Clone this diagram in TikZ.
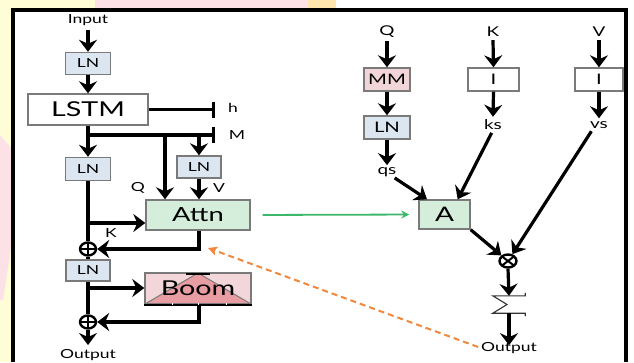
\documentclass[tikz,border=0pt]{standalone}
\usepackage{fontspec}
\setmainfont[FakeStretch=1.4]{Lato}
\usetikzlibrary{arrows.meta,shapes.geometric}
\definecolor{boxgray}{HTML}{7A7A7A}
\definecolor{lnblue}{HTML}{DCE6F1}
\definecolor{mmpink}{HTML}{F2D5D8}
\definecolor{attgreen}{HTML}{D5EEDC}
\definecolor{boomlight}{HTML}{F2D6D9}
\definecolor{boomdark}{HTML}{E89DA3}
\definecolor{bgyellow}{HTML}{FFFDD6}
\definecolor{bgpink}{HTML}{FCE1E6}
\definecolor{bgorange}{HTML}{FFE6AE}
\definecolor{arrgreen}{HTML}{3DB86B}
\definecolor{arrorange}{HTML}{F0883E}
\tikzset{
  box/.style={draw=boxgray,line width=1.4pt,inner sep=0pt},
  lnbox/.style={box,fill=lnblue,minimum width=45pt,minimum height=22pt,font=\fontsize{12.5}{13}\selectfont},
  rbox/.style={box,minimum height=23pt,font=\fontsize{14.5}{15}\selectfont},
  arr/.style={line width=3.2pt,-{Stealth[length=12pt,width=18pt,inset=4pt]}},
  plain/.style={line width=3.2pt},
  tick/.style={line width=3.2pt,-{Bar[width=16pt,line width=3pt]}},
  lbl/.style={inner sep=0pt,font=\fontsize{13.5}{14}\selectfont},
  slbl/.style={inner sep=0pt,font=\fontsize{12.5}{13}\selectfont},
  opl/.style={ellipse,draw,line width=2.4pt,minimum width=16pt,minimum height=13pt,inner sep=0pt,
    path picture={\draw[line width=2pt] (path picture bounding box.north) -- (path picture bounding box.south)
      (path picture bounding box.west) -- (path picture bounding box.east);}},
  otl/.style={ellipse,draw,line width=2.4pt,minimum width=17pt,minimum height=13pt,inner sep=0pt,
    path picture={\draw[line width=2pt] (path picture bounding box.north west) -- (path picture bounding box.south east)
      (path picture bounding box.south west) -- (path picture bounding box.north east);}},
}
\begin{document}
\begin{tikzpicture}[x=1pt,y=-1pt]
\useasboundingbox (0,0) rectangle (634,362);
% background of the slide
\fill[white] (0,0) rectangle (634,362);
\fill[bgyellow] (0,0) rectangle (13,362);
\fill[bgyellow] (0,0) rectangle (95,10);
\fill[bgpink] (95,0) rectangle (308,10);
\fill[bgorange] (308,0) rectangle (336,10);
\fill[bgpink] (0,135) -- (13,150) -- (13,235) -- (3,300) -- (0,300) -- cycle;
% frame
\draw[line width=3.2pt] (13,362) -- (13,10) -- (626,10) -- (626,362);

% ---------- left part ----------
\node[slbl] (input) at (88,20) {Input};
\node[lnbox] (ln1) at (88,63.5) {LN};
\node[box,fill=white,minimum width=120pt,minimum height=31pt,font=\fontsize{20.5}{21}\selectfont] (lstm) at (88,109.5) {LSTM};
\node[lnbox,minimum height=23pt] (ln2) at (88,169) {LN};
\node[lnbox,minimum width=44pt] (ln3) at (199,167) {LN};
\node[box,fill=attgreen,minimum width=104pt,minimum height=30pt,font=\fontsize{19.5}{20}\selectfont] (attn) at (198,215) {Attn};
\node[lnbox,minimum width=44pt,minimum height=21pt] (ln4) at (88,270.5) {LN};
\node[box,fill=boomlight,minimum width=106pt,minimum height=31pt,font=\fontsize{20.5}{21}\selectfont,
  path picture={\fill[boomdark] (path picture bounding box.south west) -- (path picture bounding box.north) -- (path picture bounding box.south east) -- cycle;
    \draw[boxgray,line width=1pt] (path picture bounding box.south west) -- (path picture bounding box.north) -- (path picture bounding box.south east);}]
  (boom) at (198,288.5) {Boom};
\draw[line width=2.4pt] (boom.south west) -- (boom.south east);
\foreach \gx in {172,198,226}{\draw[white,line width=1pt] (\gx,303) -- (\gx,305);}
\draw[line width=2.4pt] ([xshift=-12pt,yshift=-1.5pt]boom.north) -- ([xshift=12pt,yshift=-1.5pt]boom.north);
\node[opl] (op1) at (88,249) {};
\node[opl] (op2) at (88,322) {};
\node[slbl] (output1) at (88,355) {Output};

\coordinate (hend) at (215,109.5);
\coordinate (mj) at (88,135);
\coordinate (mend) at (215,135);
\coordinate (qb) at (165,135);
\coordinate (vb) at (199,135);
\coordinate (kb) at (88,223);
\coordinate (bb) at (88,288);
\coordinate (o1end) at (88,345);

\node[slbl] (hl) at (233,108) {h};
\node[slbl] (ml) at (237,135) {M};
\node[slbl] (ql) at (138,188) {Q};
\node[slbl] (vl) at (219,188) {V};
\node[slbl] (kl) at (111,233) {K};

\draw[arr] ([yshift=-4pt]input.south) -- (ln1.north);
\draw[arr] (ln1.south) -- (lstm.north);
\draw[tick] (lstm.east) -- (hend);
\draw[arr] (lstm.south) -- (ln2.north);
\draw[tick] (mj) -- (mend);
\draw[arr] (qb) -- (qb |- attn.north);
\draw[arr] (vb) -- (vb |- ln3.north);
\draw[arr] (ln3.south) -- (ln3.south |- attn.north);
\draw[plain] (ln2.south) -- (op1.north);
\draw[arr] (kb) -- (kb -| attn.west);
\draw[arr] ([xshift=1pt]attn.south) |- (op1.east);
\draw[plain] (op1.south) -- (ln4.north);
\draw[plain] (ln4.south) -- (op2.north);
\draw[arr] (bb) -- (bb -| boom.west);
\draw[arr] ([xshift=1pt]boom.south) |- (op2.east);
\draw[arr] (op2.south) -- (o1end);

% ---------- right part ----------
\node[lbl] (Q) at (387,32) {Q};
\node[lbl] (K) at (493,32) {K};
\node[lbl] (V) at (599,32) {V};
\node[rbox,fill=mmpink,minimum width=46pt] (mm) at (387,79.5) {MM};
\node[rbox,fill=lnblue,minimum width=46pt] (lnr) at (387,127.5) {LN};
\node[rbox,fill=white,minimum width=51pt] (i1) at (493.5,79.5) {I};
\node[rbox,fill=white,minimum width=48pt] (i2) at (599,79.5) {I};
\node[lbl] (qs) at (387,172) {qs};
\node[lbl] (ks) at (493,125) {ks};
\node[lbl] (vs) at (599,125) {vs};
\node[box,fill=attgreen,minimum width=51pt,minimum height=29pt,font=\fontsize{20}{21}\selectfont] (A) at (444.5,214.5) {A};
\node[otl] (ot) at (508,261) {};
\node[minimum width=32pt,minimum height=17pt,inner sep=0pt] (sig) at (509,304.5) {};
\draw[line width=1.1pt,black!80] ([yshift=3pt]sig.north east) -- (sig.north east) -- (sig.north west) -- ([xshift=-2pt]sig.center) -- (sig.south west) -- (sig.south east) -- ([yshift=-3pt]sig.south east);
\node[slbl] (output2) at (509,348) {Output};

\draw[arr] ([yshift=-3pt]Q.south) -- (mm.north);
\draw[arr] (mm.south) -- (lnr.north);
\draw[arr] (lnr.south) -- ([yshift=2pt]qs.north);
\draw[arr] ([yshift=-3pt]K.south) -- (i1.north);
\draw[arr] (i1.south) -- ([yshift=3pt]ks.north);
\draw[arr] ([yshift=-3pt]V.south) -- (i2.north);
\draw[arr] (i2.south) -- ([yshift=3pt]vs.north);
\draw[arr,shorten <=2pt] ([xshift=6pt]qs.south) -- (A.139);
\draw[arr,shorten <=3pt] (ks.south) -- (A.49);
\draw[arr,shorten <=3pt] ([xshift=-6pt]vs.south) -- (ot);
\draw[arr] (A.south east) -- (ot);
\draw[arr] (ot.south) -- (sig.north);
\draw[arr] (sig.south) -- ([yshift=-3pt]output2.north);

% ---------- cross links ----------
\coordinate (dashend) at (208,248);
\draw[arrgreen,line width=1.8pt,-{Stealth[length=8pt,width=8pt]},shorten <=12pt,shorten >=9pt] (attn.east) -- (A.west);
\draw[arrorange,line width=2pt,dashed,dash pattern=on 6pt off 4pt,-{Stealth[length=9pt,width=9pt,inset=2pt]},shorten <=3pt] (output2.west) -- (dashend);
\end{tikzpicture}
\end{document}
